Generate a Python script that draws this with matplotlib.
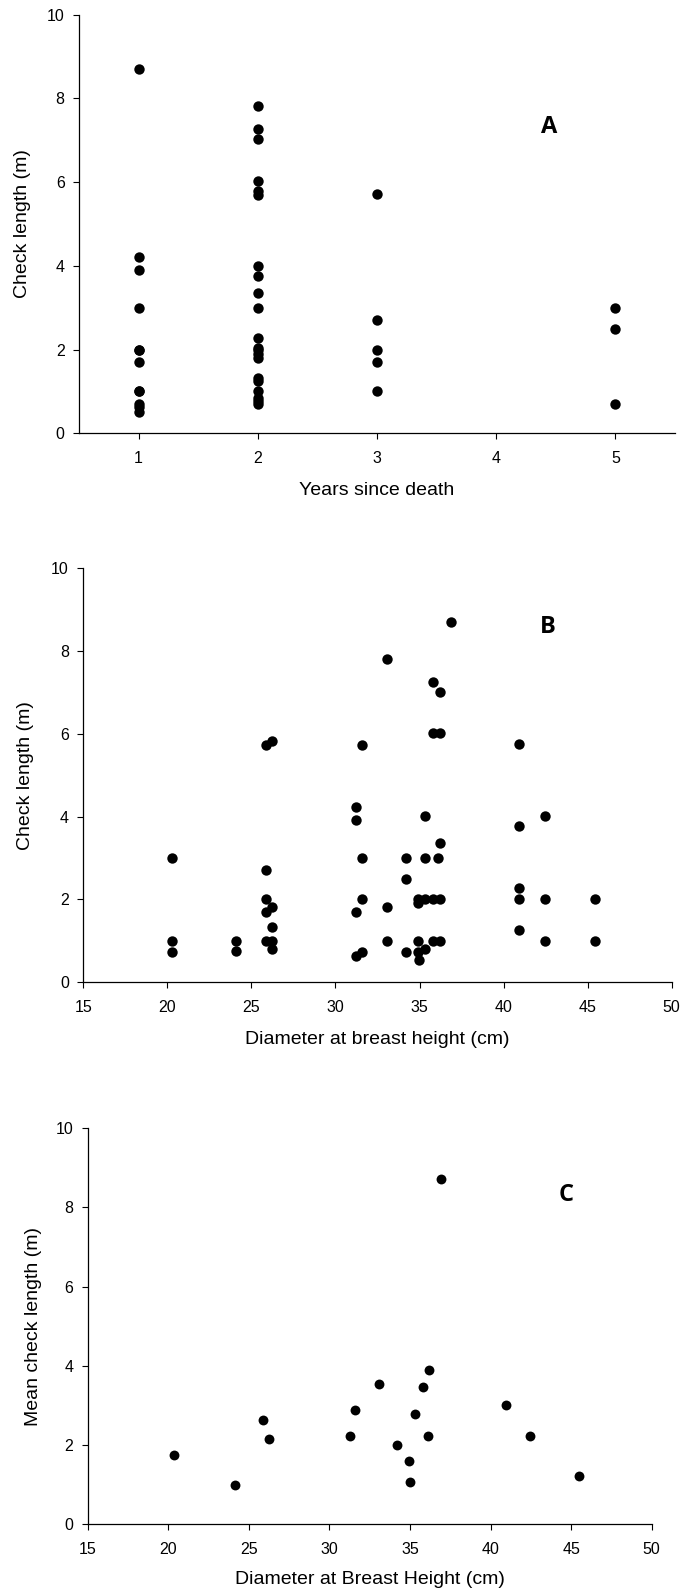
import matplotlib
matplotlib.use("Agg")
import matplotlib.pyplot as plt

# ---------------- data ----------------
# Panel A: check length vs years since death
a_years = [1]*12 + [2]*21 + [3]*5 + [5]*3
a_length = [8.7, 4.2, 3.9, 3.0, 2.0, 2.0, 1.7, 1.0, 1.0, 0.7, 0.62, 0.52,
            7.82, 7.27, 7.02, 6.02, 5.8, 5.7, 4.0, 3.76, 3.36, 3.0, 2.27, 2.04,
            1.98, 1.9, 1.8, 1.31, 1.26, 1.02, 0.84, 0.76, 0.7,
            5.72, 2.7, 2.0, 1.7, 1.0,
            3.0, 2.5, 0.7]

# Panel B: check length vs DBH
b_dbh = [20.3, 20.3, 20.3,
         24.1, 24.1,
         25.85, 26.25, 25.85, 25.85, 26.25, 25.85, 26.25, 25.85, 26.25, 26.25,
         31.25, 31.25, 31.55, 31.55, 31.55, 31.25, 31.55, 31.25,
         33.05, 33.05, 33.05,
         34.2, 34.2, 34.2,
         34.9, 34.9, 34.9, 34.9, 34.95,
         35.3, 35.3, 35.3, 35.3,
         35.8, 36.2, 35.8, 36.2, 36.2, 36.1, 35.8, 36.2, 35.8, 36.2,
         36.9,
         40.9, 40.9, 40.9, 40.9, 40.9,
         42.45, 42.45, 42.45,
         45.45, 45.45]
b_length = [3.0, 1.0, 0.72,
            1.0, 0.76,
            5.72, 5.82, 2.7, 2.0, 1.82, 1.7, 1.32, 1.0, 1.0, 0.8,
            4.22, 3.91, 5.72, 3.0, 2.0, 1.7, 0.72, 0.62,
            7.81, 1.82, 1.0,
            3.0, 2.5, 0.72,
            2.0, 1.9, 1.0, 0.72, 0.52,
            0.8, 4.02, 3.0, 2.0,
            7.26, 7.01, 6.01, 6.01, 3.37, 3.0, 2.0, 2.0, 1.0, 1.0,
            8.71,
            5.76, 3.76, 2.27, 2.0, 1.26,
            4.02, 2.0, 1.0,
            2.0, 1.0]

# Panel C: mean check length vs DBH
c_dbh = [20.33, 24.14, 25.85, 26.28, 31.28, 31.61, 33.1, 34.2, 34.91, 34.99,
         35.32, 35.8, 36.21, 36.13, 36.94, 40.95, 42.43, 45.46]
c_mean = [1.76, 0.98, 2.64, 2.16, 2.22, 2.88, 3.55, 2.0, 1.6, 1.07,
          2.78, 3.47, 3.9, 2.22, 8.71, 3.01, 2.22, 1.22]

a_xticks = [1, 2, 3, 4, 5]
dbh_xticks = [15, 20, 25, 30, 35, 40, 45, 50]
y_ticks = [0, 2, 4, 6, 8, 10]

# ---------------- style ----------------
plt.rcParams['font.family'] = ['Liberation Sans', 'DejaVu Sans']

W, H = 680, 1593
fig = plt.figure(figsize=(W / 100, H / 100), dpi=100)


def make_axes(left, right, top, bottom):
    return fig.add_axes([left / W, 1 - bottom / H, (right - left) / W, (bottom - top) / H])


def style(ax, xlim, xticks, xlabel, ylabel, xl_off, yl_off):
    ax.set_xlim(*xlim)
    ax.set_ylim(0, 10)
    ax.set_xticks(xticks)
    ax.set_yticks(y_ticks)
    for s in ['top', 'right']:
        ax.spines[s].set_visible(False)
    for s in ['left', 'bottom']:
        ax.spines[s].set_linewidth(0.9)
        ax.spines[s].set_color('black')
    ax.tick_params(axis='both', direction='out', length=4.3, width=0.8,
                   labelsize=11.5, colors='black')
    ax.tick_params(axis='x', pad=8.3)
    ax.tick_params(axis='y', pad=6)
    ax.set_xlabel(xlabel, fontsize=14)
    ax.set_ylabel(ylabel, fontsize=14)
    ax.xaxis.label.set_va('center')
    ax.yaxis.label.set_va('center')
    ax.xaxis.set_label_coords(0.5, xl_off)
    ax.yaxis.set_label_coords(yl_off, 0.5)


ms = 56
letter_font = dict(fontsize=17, fontweight='bold', family=['Open Sans', 'DejaVu Sans'],
                   ha='center', va='center')

# Panel A
axA = make_axes(79, 675, 14.7, 433.3)
axA.scatter(a_years, a_length, s=ms, color='black', zorder=3, linewidths=0)
style(axA, (0.5, 5.5), a_xticks, 'Years since death', 'Check length (m)',
      -57.5 / 418.6, -56 / 596)
axA.text(4.44, 7.32, 'A', **letter_font)

# Panel B
axB = make_axes(83.3, 671.7, 568.3, 982)
axB.scatter(b_dbh, b_length, s=ms, color='black', zorder=3, linewidths=0)
style(axB, (15, 50), dbh_xticks, 'Diameter at breast height (cm)', 'Check length (m)',
      -58 / 413.7, -57.3 / 588.4)
axB.text(42.64, 8.59, 'B', **letter_font)

# Panel C
axC = make_axes(87.7, 651.7, 1128, 1524.3)
axC.scatter(c_dbh, c_mean, s=ms * 0.9, color='black', zorder=3, linewidths=0)
style(axC, (15, 50), dbh_xticks, 'Diameter at Breast Height (cm)', 'Mean check length (m)',
      -55.7 / 396.3, -54 / 564)
axC.text(44.68, 8.31, 'C', **letter_font)

fig.savefig('out.png', dpi=100)
